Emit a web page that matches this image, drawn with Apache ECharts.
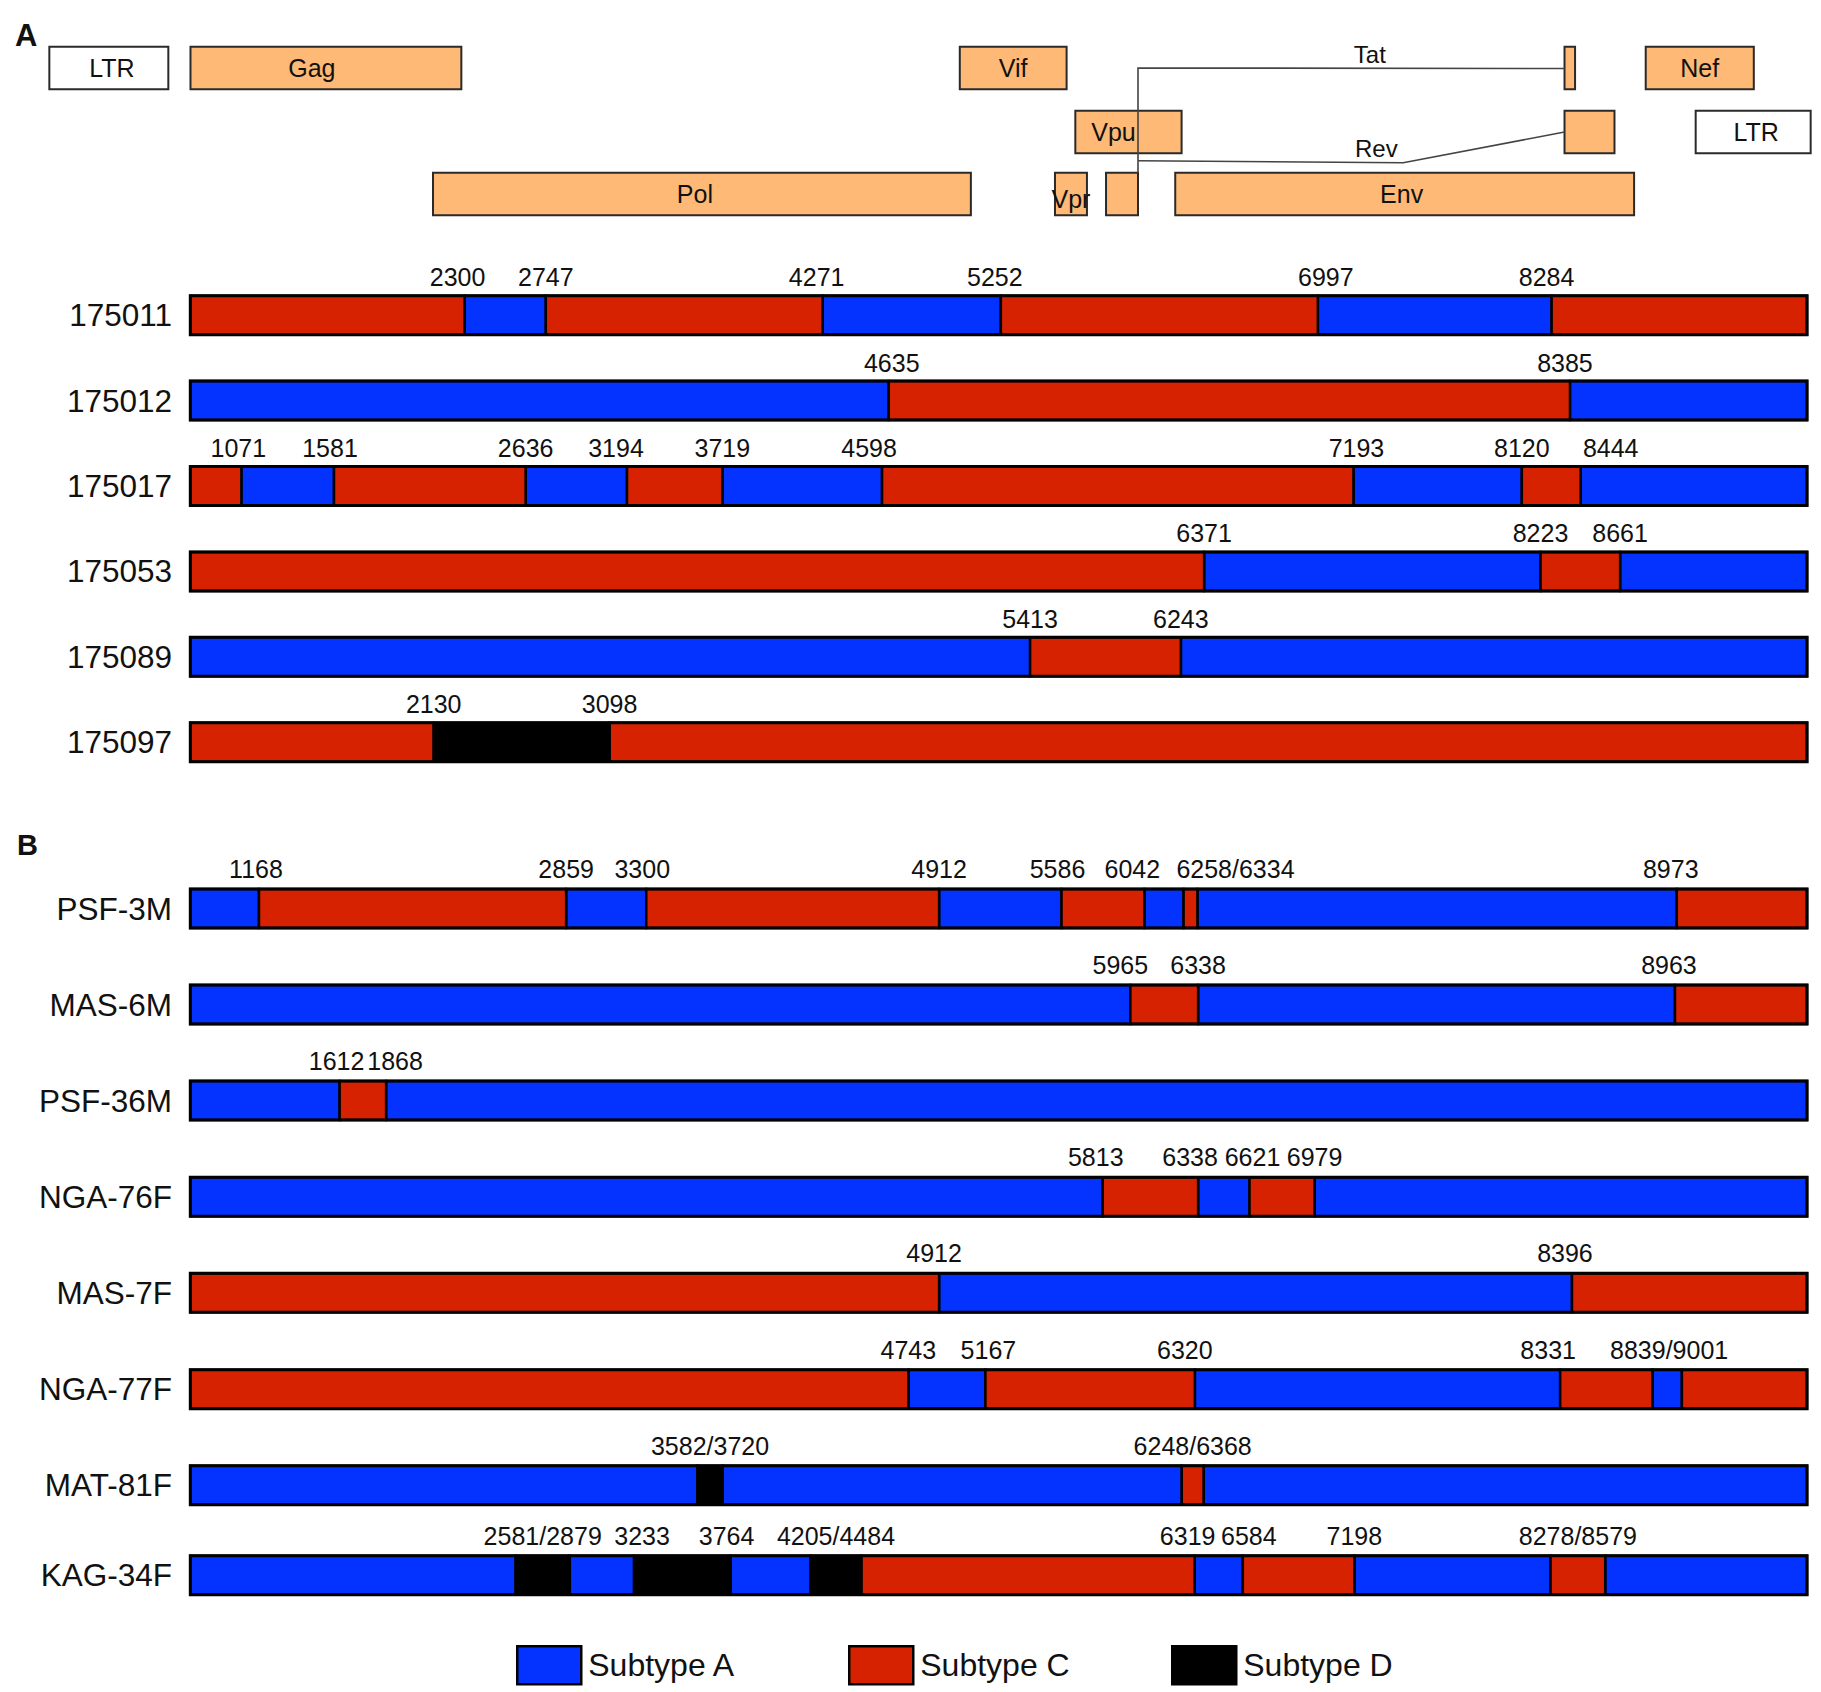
<!DOCTYPE html>
<html>
<head>
<meta charset="utf-8">
<script src="https://cdn.jsdelivr.net/npm/echarts@6/dist/echarts.min.js"></script>
<style>
html, body { margin: 0; padding: 0; background: #fff; }
#chart { width: 1821px; height: 1692px; }
</style>
</head>
<body>
<div id="chart"></div>
<script>
// HIV-1 genome map (HXB2 numbering) + mosaic structure of the recombinants

// genes of panel A
const geneNames = ['LTR', 'Gag', 'Pol', 'Vif', 'Vpr', 'Vpu', 'Env', 'Nef', 'LTR'];
const geneStart = [14, 791, 2126, 5026, 5550, 5662, 6212, 8802, 9077];
const geneEnd = [669, 2282, 5087, 5614, 5726, 6247, 8738, 9397, 9710];
const geneTrack = [0, 0, 2, 0, 2, 1, 2, 0, 1];
// tat / rev exons (no label on the box)
const exonStart = [5831, 8355, 8355];
const exonEnd = [6007, 8413, 8630];
const exonTrack = [2, 0, 1];
// splice lines
const tatLineX = [6007, 6007, 8355];
const revLineX = [6007, 7467, 8355];

const barStart = 790;
const barEnd = 9690;

// panel A
const samplesA = ['175011', '175012', '175017', '175053', '175089', '175097'];
const breaksA = [
    [2300, 2747, 4271, 5252, 6997, 8284],
    [4635, 8385],
    [1071, 1581, 2636, 3194, 3719, 4598, 7193, 8120, 8444],
    [6371, 8223, 8661],
    [5413, 6243],
    [2130, 3098]
];
const subtypesA = ['CACACAC', 'ACA', 'CACACACACA', 'CACA', 'ACA', 'CDC'];
const labelsA = [
    ['2300', '2747', '4271', '5252', '6997', '8284'],
    ['4635', '8385'],
    ['1071', '1581', '2636', '3194', '3719', '4598', '7193', '8120', '8444'],
    ['6371', '8223', '8661'],
    ['5413', '6243'],
    ['2130', '3098']
];

// panel B
const samplesB = ['PSF-3M', 'MAS-6M', 'PSF-36M', 'NGA-76F', 'MAS-7F', 'NGA-77F', 'MAT-81F', 'KAG-34F'];
const breaksB = [
    [1168, 2859, 3300, 4912, 5586, 6042, 6258, 6334, 8973],
    [5965, 6338, 8963],
    [1612, 1868],
    [5813, 6338, 6621, 6979],
    [4912, 8396],
    [4743, 5167, 6320, 8331, 8839, 9001],
    [3582, 3720, 6248, 6368],
    [2581, 2879, 3233, 3764, 4205, 4484, 6319, 6584, 7198, 8278, 8579]
];
const subtypesB = ['ACACACACAC', 'ACAC', 'ACA', 'ACACA', 'CAC', 'CACACAC', 'ADACA', 'ADADADCACACA'];
const labelsB = [
    ['1168', '2859', '3300', '4912', '5586', '6042', '6258/6334', '8973'],
    ['5965', '6338', '8963'],
    ['1612', '1868'],
    ['5813', '6338', '6621', '6979'],
    ['4912', '8396'],
    ['4743', '5167', '6320', '8331', '8839/9001'],
    ['3582/3720', '6248/6368'],
    ['2581/2879', '3233', '3764', '4205/4484', '6319', '6584', '7198', '8278/8579']
];

const legendNames = ['Subtype A', 'Subtype C', 'Subtype D'];

// ---- layout / style ----
const FONT = '"Liberation Sans", Arial, sans-serif';
const colors = { A: '#0433FF', C: '#D62200', D: '#000000' };
const geneFill = '#FDB975';
const trackTop = [46.7, 110.7, 172.7];
const trackH = 42.6;
const barH = 39;
const rowTops = [295.7, 381.1, 466.5, 551.9, 637.3, 722.7,
    889, 985, 1081, 1177.3, 1273.3, 1369.7, 1465.7, 1555.7];
const legendLeft = [516, 848, 1171];
// small sideways shifts (px) used to keep neighbouring labels apart
const labelNudge = {
    '0|2300': -7, '0|4271': -6, '0|5252': -6, '0|6997': 8, '0|8284': -5,
    '1|4635': 3, '1|8385': -5,
    '2|1071': -3, '2|1581': -4, '2|3194': -11, '2|4598': -13, '2|7193': 3, '2|8444': 30,
    '6|1168': -3, '6|3300': -4, '6|5586': -4, '6|6042': -12, '6|6258/6334': 45, '6|8973': -6,
    '7|5965': -10, '7|8963': -6,
    '8|1612': -3, '8|1868': 9,
    '9|5813': -7, '9|6338': -8, '9|6621': 3,
    '10|4912': -5, '10|8396': -7,
    '11|5167': 3, '11|6320': -10, '11|8331': -12, '11|8839/9001': 2,
    '13|3233': 8, '13|3764': -4, '13|6319': -7, '13|6584': 6
};
const geneNudge = [3, -14, -7, 0, 0, 0, -3, 0, 3];

const allNames = samplesA.concat(samplesB);
const allBreaks = breaksA.concat(breaksB);
const allSubtypes = subtypesA.concat(subtypesB);
const allLabels = labelsA.concat(labelsB);

const segData = { A: [], C: [], D: [] };
allBreaks.forEach(function (bps, r) {
    const edges = [barStart].concat(bps, [barEnd]);
    for (let k = 0; k < edges.length - 1; k++) {
        segData[allSubtypes[r][k]].push([edges[k], edges[k + 1], r]);
    }
});

const labelItems = [];
allLabels.forEach(function (list, r) {
    list.forEach(function (txt) {
        const nums = txt.split('/').map(Number);
        const mid = nums.reduce((a, b) => a + b, 0) / nums.length;
        labelItems.push({ x: mid, r: r, text: txt, dx: labelNudge[r + '|' + txt] || 0 });
    });
});

function segRender(color) {
    return function (params, api) {
        const r = api.value(2);
        const p0 = api.coord([api.value(0), rowTops[r]]);
        const p1 = api.coord([api.value(1), rowTops[r]]);
        return {
            type: 'rect',
            shape: { x: p0[0], y: p0[1], width: p1[0] - p0[0], height: barH },
            style: { fill: color, stroke: '#000', lineWidth: 2.5 }
        };
    };
}

const chart = echarts.init(document.getElementById('chart'), null, { renderer: 'svg' });

const series = ['A', 'C', 'D'].map(function (s, i) {
    return {
        name: legendNames[i],
        type: 'custom',
        coordinateSystem: 'cartesian2d',
        clip: false,
        silent: true,
        itemStyle: { color: colors[s] },
        renderItem: segRender(colors[s]),
        data: segData[s],
        z: 2
    };
});

// outline of each mosaic bar
series.push({
    type: 'custom',
    clip: false,
    silent: true,
    renderItem: function (params, api) {
        const r = api.value(0);
        const p0 = api.coord([barStart, rowTops[r]]);
        const p1 = api.coord([barEnd, rowTops[r]]);
        return {
            type: 'rect',
            shape: { x: p0[0], y: p0[1], width: p1[0] - p0[0], height: barH },
            style: { fill: 'none', stroke: '#000', lineWidth: 3 }
        };
    },
    data: allNames.map((n, i) => [i]),
    z: 3
});

// sample names
series.push({
    type: 'custom',
    clip: false,
    silent: true,
    renderItem: function (params, api) {
        const r = api.value(0);
        return {
            type: 'text',
            style: {
                text: allNames[r], x: 172, y: rowTops[r] + barH / 2,
                align: 'right', verticalAlign: 'middle',
                fontSize: 31.5, fontFamily: FONT, fill: '#111'
            }
        };
    },
    data: allNames.map((n, i) => [i]),
    z: 4
});

// breakpoint labels
series.push({
    type: 'custom',
    clip: false,
    silent: true,
    renderItem: function (params, api) {
        const d = labelItems[params.dataIndex];
        const off = d.r < samplesA.length ? 18.5 : 20;
        const p = api.coord([d.x, rowTops[d.r] - off]);
        return {
            type: 'text',
            style: {
                text: d.text, x: p[0] + d.dx, y: p[1],
                align: 'center', verticalAlign: 'middle',
                fontSize: 25, fontFamily: FONT, fill: '#111'
            }
        };
    },
    data: labelItems.map(d => [d.x, d.r]),
    z: 4
});

// genes
series.push({
    type: 'custom',
    clip: false,
    silent: true,
    renderItem: function (params, api) {
        const i = params.dataIndex;
        const t = geneTrack[i];
        const p0 = api.coord([geneStart[i], trackTop[t]]);
        const p1 = api.coord([geneEnd[i], trackTop[t]]);
        const name = geneNames[i];
        let dx = geneNudge[i], dy = 0;
        if (name === 'Vpu') dx = -15;
        if (name === 'Vpr') dy = 5;
        return {
            type: 'group',
            children: [{
                type: 'rect',
                shape: { x: p0[0], y: p0[1], width: p1[0] - p0[0], height: trackH },
                style: { fill: name === 'LTR' ? '#fff' : geneFill, stroke: '#2a2a2a', lineWidth: 2 }
            }, {
                type: 'text',
                z2: 10,
                style: {
                    text: name, x: (p0[0] + p1[0]) / 2 + dx, y: p0[1] + trackH / 2 + dy,
                    align: 'center', verticalAlign: 'middle',
                    fontSize: 25, fontFamily: FONT, fill: '#111'
                }
            }]
        };
    },
    data: geneNames.map((n, i) => [geneStart[i], geneEnd[i]]),
    z: 2
});

// tat / rev exons
series.push({
    type: 'custom',
    clip: false,
    silent: true,
    renderItem: function (params, api) {
        const i = params.dataIndex;
        const t = exonTrack[i];
        const p0 = api.coord([exonStart[i], trackTop[t]]);
        const p1 = api.coord([exonEnd[i], trackTop[t]]);
        return {
            type: 'rect',
            shape: { x: p0[0], y: p0[1], width: p1[0] - p0[0], height: trackH },
            style: { fill: geneFill, stroke: '#2a2a2a', lineWidth: 2 }
        };
    },
    data: exonStart.map((s, i) => [s, exonEnd[i]]),
    z: 2
});

// splice lines and the Tat / Rev names
series.push({
    type: 'custom',
    clip: false,
    silent: true,
    renderItem: function (params, api) {
        const mid0 = trackTop[0] + trackH / 2;
        const mid1 = trackTop[1] + trackH / 2;
        const tatY = [trackTop[2], mid0, mid0 + 0.5];
        const revY = [160.7, 162.7, mid1];
        const tatPts = tatLineX.map((x, k) => api.coord([x, tatY[k]]));
        const revPts = revLineX.map((x, k) => api.coord([x, revY[k]]));
        const tatLbl = api.coord([7283, 54]);
        const revLbl = api.coord([7319, 148]);
        const txt = (t, p) => ({
            type: 'text',
            style: { text: t, x: p[0], y: p[1], align: 'center', verticalAlign: 'middle',
                fontSize: 24, fontFamily: FONT, fill: '#111' }
        });
        return {
            type: 'group',
            children: [
                { type: 'polyline', shape: { points: tatPts }, style: { stroke: '#444', lineWidth: 1.6, fill: 'none' } },
                { type: 'polyline', shape: { points: revPts }, style: { stroke: '#444', lineWidth: 1.6, fill: 'none' } },
                txt('Tat', tatLbl),
                txt('Rev', revLbl)
            ]
        };
    },
    data: [[0, 0]],
    z: 5
});

chart.setOption({
    animation: false,
    grid: { left: 46.8, right: 8.7, top: 0, bottom: 0 },
    xAxis: { type: 'value', min: 0, max: 9719, show: false },
    yAxis: { type: 'value', min: 0, max: 1692, inverse: true, show: false },
    legend: legendNames.map(function (n, i) {
        return {
            data: [n],
            left: legendLeft[i],
            top: 1645,
            padding: 0,
            icon: 'rect',
            itemWidth: 64,
            itemHeight: 38,
            selectedMode: false,
            itemStyle: { borderColor: '#000', borderWidth: 2.5 },
            textStyle: { fontSize: 32, fontFamily: FONT, color: '#111', padding: [0, 0, 0, 2] }
        };
    }),
    graphic: [
        { type: 'text', left: 15, top: 20, style: { text: 'A', fontSize: 31, fontWeight: 'bold', fontFamily: FONT, fill: '#111' } },
        { type: 'text', left: 17, top: 830, style: { text: 'B', fontSize: 29, fontWeight: 'bold', fontFamily: FONT, fill: '#111' } }
    ],
    series: series
});
</script>
</body>
</html>
